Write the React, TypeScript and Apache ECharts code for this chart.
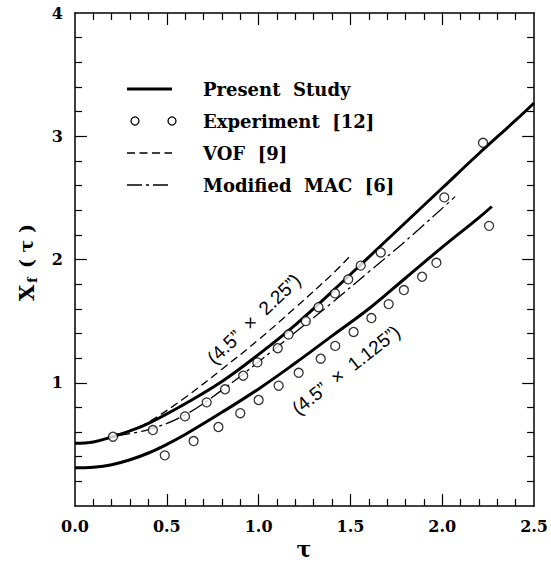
import React, { useEffect, useRef } from "react";
import * as echarts from "echarts";

// Present Study, 4.5" x 2.25" (upper curve)
const upperX = [0, 0.1, 0.2, 0.3, 0.4, 0.6, 0.8, 1.0, 1.2, 1.4, 1.6, 1.8, 2.0, 2.2, 2.4, 2.5];
const upperY = [0.51, 0.52, 0.56, 0.61, 0.67, 0.83, 1.01, 1.23, 1.47, 1.74, 2.02, 2.3, 2.58, 2.86, 3.13, 3.27];
// Present Study, 4.5" x 1.125" (lower curve)
const lowerX = [0, 0.1, 0.2, 0.3, 0.4, 0.5, 0.6, 0.8, 1.0, 1.2, 1.4, 1.6, 1.8, 2.0, 2.2, 2.27];
const lowerY = [0.31, 0.315, 0.335, 0.375, 0.43, 0.5, 0.58, 0.76, 0.95, 1.16, 1.38, 1.6, 1.85, 2.1, 2.34, 2.43];
// VOF [9]
const vofX = [0.22, 0.3, 0.4, 0.6, 0.8, 1.0, 1.2, 1.4, 1.5];
const vofY = [0.58, 0.61, 0.68, 0.88, 1.11, 1.35, 1.61, 1.88, 2.03];
// Modified MAC [6]
const macX = [0.22, 0.4, 0.6, 0.8, 1.0, 1.2, 1.4, 1.6, 1.8, 2.07];
const macY = [0.57, 0.62, 0.74, 0.94, 1.17, 1.41, 1.65, 1.9, 2.15, 2.51];
// Experiment [12], 4.5" x 2.25"
const expUpperX = [0.207, 0.424, 0.599, 0.717, 0.817, 0.916, 0.993, 1.104, 1.163, 1.257, 1.326, 1.416, 1.488, 1.556, 1.665, 2.011, 2.222];
const expUpperY = [0.562, 0.616, 0.727, 0.841, 0.947, 1.057, 1.165, 1.28, 1.391, 1.5, 1.613, 1.725, 1.839, 1.95, 2.057, 2.504, 2.947];
// Experiment [12], 4.5" x 1.125"
const expLowerX = [0.489, 0.646, 0.781, 0.9, 1.0, 1.109, 1.218, 1.338, 1.417, 1.517, 1.614, 1.708, 1.791, 1.89, 1.968, 2.255];
const expLowerY = [0.411, 0.527, 0.641, 0.753, 0.86, 0.976, 1.081, 1.195, 1.299, 1.412, 1.525, 1.638, 1.752, 1.86, 1.973, 2.273];

// Tick positions (inward ticks on all four sides)
const xTickValues = [0.1, 0.2, 0.3, 0.4, 0.5, 0.6, 0.7, 0.8, 0.9, 1.0, 1.1, 1.2, 1.3, 1.4, 1.5, 1.6, 1.7, 1.8, 1.9, 2.0, 2.1, 2.2, 2.3, 2.4];
const yTickValues = [0.2, 0.4, 0.6, 0.8, 1.0, 1.2, 1.4, 1.6, 1.8, 2.0, 2.2, 2.4, 2.6, 2.8, 3.0, 3.2, 3.4, 3.6, 3.8];

const legendLabels = ["Present  Study", "Experiment  [12]", "VOF  [9]", "Modified  MAC  [6]"];
const annotUpper = "(4.5”  ×  2.25”)";
const annotLower = "(4.5”  ×  1.125”)";

const zip = (xs: number[], ys: number[]) => xs.map((x, i) => [x, ys[i]]);

const SERIF = "DejaVu Serif";
const tickFont = { fontFamily: SERIF, fontWeight: "bold" as const, fontSize: 16, color: "#000" };

const X_MIN = 0, X_MAX = 2.5, X_MAJOR = 0.5;
const Y_MIN = 0, Y_MAX = 4, Y_MAJOR = 1;
const GRID = { left: 75, right: 14, top: 13, bottom: 56 };
const GRID_W = 551 - GRID.left - GRID.right;
const GRID_H = 562 - GRID.top - GRID.bottom;
// tick lengths in pixels converted to data units along each axis
const xPerPx = (X_MAX - X_MIN) / GRID_W;
const yPerPx = (Y_MAX - Y_MIN) / GRID_H;

const frameLine = { show: true, onZero: false, lineStyle: { color: "#000", width: 1.5 } };

function frameX(pos: "bottom" | "top", show: boolean) {
  return {
    type: "value",
    min: X_MIN,
    max: X_MAX,
    interval: X_MAJOR,
    position: pos,
    axisLine: frameLine,
    axisTick: { show: false },
    minorTick: { show: false },
    splitLine: { show: false },
    axisLabel: { show, margin: 12, ...tickFont, formatter: (v: number) => v.toFixed(1) },
  };
}
function frameY(pos: "left" | "right", show: boolean) {
  return {
    type: "value",
    min: Y_MIN,
    max: Y_MAX,
    interval: Y_MAJOR,
    position: pos,
    axisLine: frameLine,
    axisTick: { show: false },
    minorTick: { show: false },
    splitLine: { show: false },
    axisLabel: { show, margin: 12, ...tickFont, formatter: (v: number) => (v === 0 ? "" : String(v)) },
  };
}

const isMajor = (v: number, step: number) => Math.abs(v / step - Math.round(v / step)) < 1e-6;

function tickMarkLines() {
  const segs: any[] = [];
  xTickValues.forEach((v) => {
    const len = (isMajor(v, X_MAJOR) ? 12 : 7) * yPerPx;
    segs.push([{ coord: [v, Y_MIN] }, { coord: [v, Y_MIN + len] }]);
    segs.push([{ coord: [v, Y_MAX] }, { coord: [v, Y_MAX - len] }]);
  });
  yTickValues.forEach((v) => {
    const len = (isMajor(v, Y_MAJOR) ? 12 : 7) * xPerPx;
    segs.push([{ coord: [X_MIN, v] }, { coord: [X_MIN + len, v] }]);
    segs.push([{ coord: [X_MAX, v] }, { coord: [X_MAX - len, v] }]);
  });
  return segs;
}

export default function App() {
  const ref = useRef<HTMLDivElement>(null);
  useEffect(() => {
    if (!ref.current) return;
    const chart = echarts.init(ref.current, undefined, { renderer: "svg" });
    const legX1 = 127, legX2 = 172, legTX = 203;
    const rows = [89, 121, 153, 185];
    const legFont = `bold 18px "${SERIF}"`;
    const txt = (x: number, y: number, text: string, font: string) => ({
      type: "text",
      x,
      y,
      style: { text, font, fill: "#000", textAlign: "left", align: "left", textVerticalAlign: "middle", verticalAlign: "middle" },
    });
    const ctxt = (x: number, y: number, text: string, font: string, rotation: number) => ({
      type: "text",
      x,
      y,
      rotation,
      style: { text, font, fill: "#000", textAlign: "center", align: "center", textVerticalAlign: "middle", verticalAlign: "middle" },
    });
    const option: any = {
      animation: false,
      backgroundColor: "#fff",
      grid: { ...GRID, containLabel: false },
      xAxis: [frameX("bottom", true), frameX("top", false)],
      yAxis: [frameY("left", true), frameY("right", false)],
      series: [
        {
          name: "Present Study upper",
          type: "line",
          data: zip(upperX, upperY),
          smooth: 0.4,
          showSymbol: false,
          lineStyle: { color: "#000", width: 3 },
          z: 3,
          markLine: {
            silent: true,
            symbol: ["none", "none"],
            label: { show: false },
            lineStyle: { color: "#000", width: 1.2, type: "solid" },
            emphasis: { disabled: true },
            data: tickMarkLines(),
          },
        },
        {
          name: "Present Study lower",
          type: "line",
          data: zip(lowerX, lowerY),
          smooth: 0.4,
          showSymbol: false,
          lineStyle: { color: "#000", width: 3 },
          z: 3,
        },
        {
          name: "VOF [9]",
          type: "line",
          data: zip(vofX, vofY),
          smooth: 0.4,
          showSymbol: false,
          lineStyle: { color: "#000", width: 1.3, type: [8, 4.5] },
          z: 2,
        },
        {
          name: "Modified MAC [6]",
          type: "line",
          data: zip(macX, macY),
          smooth: 0.4,
          showSymbol: false,
          lineStyle: { color: "#000", width: 1.3, type: [15, 4, 3, 4] },
          z: 2,
        },
        {
          name: "Experiment upper",
          type: "scatter",
          data: zip(expUpperX, expUpperY),
          symbol: "circle",
          symbolSize: 9,
          itemStyle: { color: "#fff", borderColor: "#000", borderWidth: 1.3 },
          z: 5,
        },
        {
          name: "Experiment lower",
          type: "scatter",
          data: zip(expLowerX, expLowerY),
          symbol: "circle",
          symbolSize: 9,
          itemStyle: { color: "#fff", borderColor: "#000", borderWidth: 1.3 },
          z: 5,
        },
      ],
      graphic: [
        { type: "line", shape: { x1: legX1, y1: rows[0], x2: legX2, y2: rows[0] }, style: { stroke: "#000", lineWidth: 3 } },
        txt(legTX, rows[0], legendLabels[0], legFont),
        { type: "circle", shape: { cx: 135, cy: rows[1], r: 4 }, style: { fill: "#fff", stroke: "#000", lineWidth: 1.3 } },
        { type: "circle", shape: { cx: 172, cy: rows[1], r: 4 }, style: { fill: "#fff", stroke: "#000", lineWidth: 1.3 } },
        txt(legTX, rows[1], legendLabels[1], legFont),
        { type: "line", shape: { x1: legX1, y1: rows[2], x2: legX2, y2: rows[2] }, style: { stroke: "#000", lineWidth: 1.3, lineDash: [8, 4.5] } },
        txt(legTX, rows[2], legendLabels[2], legFont),
        { type: "line", shape: { x1: legX1, y1: rows[3], x2: legX2, y2: rows[3] }, style: { stroke: "#000", lineWidth: 1.3, lineDash: [15, 4, 3, 4] } },
        txt(legTX, rows[3], legendLabels[3], legFont),
        ctxt(254, 319, annotUpper, `19px "Liberation Sans"`, (43.7 * Math.PI) / 180),
        ctxt(346, 370, annotLower, `19px "Liberation Sans"`, (38.2 * Math.PI) / 180),
        ctxt(304, 549, "τ", `bold 22px "${SERIF}"`, 0),
        {
          type: "group",
          x: 26,
          y: 301,
          rotation: Math.PI / 2,
          children: [
            txt(0, 0, "X", `bold 21px "${SERIF}"`),
            txt(18, 6, "f", `bold 13px "${SERIF}"`),
            txt(33, 0, "( τ )", `bold 19px "${SERIF}"`),
          ],
        },
      ],
    };
    chart.setOption(option);
    return () => chart.dispose();
  }, []);
  return (
    <div
      ref={ref}
      style={{ position: "fixed", left: 0, top: 0, width: 551, height: 562, background: "#fff" }}
    />
  );
}
